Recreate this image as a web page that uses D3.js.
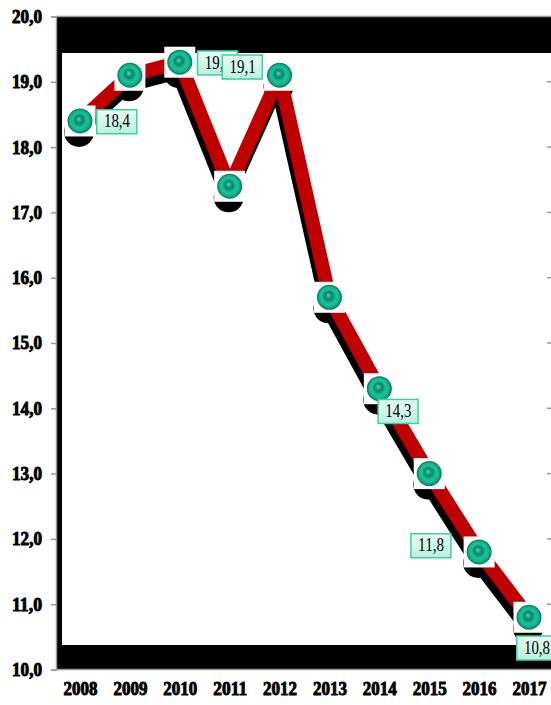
<!DOCTYPE html>
<html>
<head>
<meta charset="utf-8">
<script src="https://cdn.jsdelivr.net/npm/d3@7"></script>
<style>
html,body{margin:0;padding:0;background:#fff;}
svg{display:block;}
</style>
</head>
<body>
<svg id="chart" width="551" height="705"></svg>
<script>
// ---- data ----
const years = ["2008","2009","2010","2011","2012","2013","2014","2015","2016","2017"];
const values = [18.4, 19.1, 19.3, 17.4, 19.1, 15.7, 14.3, 13.0, 11.8, 10.8];
const yTicks = [10,11,12,13,14,15,16,17,18,19,20];
const labeledYears = ["2008","2010","2012","2014","2016","2017"];

// ---- label placement (layout only) ----
const labelPlace = {
  "2008": {dx: 16, dy: -12},
  "2010": {dx: 17, dy: -12},
  "2012": {dx: -58, dy: -21},
  "2014": {dx: -2, dy: 10},
  "2016": {dx: -69, dy: -19},
  "2017": {dx: -13, dy: 18}
};

const fmt = v => d3.format(".1f")(v).replace(".", ",");

const svg = d3.select("#chart");
const defs = svg.append("defs");

const x = d3.scalePoint().domain(years).range([80, 529]);
const y = d3.scaleLinear().domain([10, 20]).range([669.5, 16.5]);

// gradients
const sg = defs.append("radialGradient").attr("id","sphere")
  .attr("cx","50%").attr("cy","50%").attr("r","50%").attr("fx","45%").attr("fy","42%");
[[0,"#4fdcb9"],[0.15,"#1fb08c"],[0.3,"#0a8469"],[0.42,"#10a07e"],[0.6,"#1cc499"],[0.82,"#12ad87"],[1,"#06735a"]]
  .forEach(s => sg.append("stop").attr("offset", s[0]).attr("stop-color", s[1]));
const lg = defs.append("linearGradient").attr("id","lbl").attr("x1","0").attr("y1","0").attr("x2","0").attr("y2","1");
lg.append("stop").attr("offset",0).attr("stop-color","#e9fcf5");
lg.append("stop").attr("offset",1).attr("stop-color","#b9f1dd");

// back wall / plot area
const pLeft = 56, pRight = 551, pTop = y(20), pBottom = y(10);
svg.append("rect").attr("x", pLeft).attr("y", pTop).attr("width", pRight-pLeft).attr("height", pBottom-pTop).attr("fill","#000");
svg.append("rect").attr("x", 62).attr("y", 53).attr("width", 485).attr("height", 592).attr("fill","#fff");
svg.append("rect").attr("x", 547).attr("y", 53).attr("width", 4).attr("height", 592).attr("fill","#fff");
// right stubs of gridlines
svg.append("g").selectAll("line").data(yTicks.filter(t => y(t) > 53 && y(t) < 645)).join("line")
  .attr("x1", 547).attr("x2", 551).attr("y1", d => y(d)).attr("y2", d => y(d))
  .attr("stroke","#999").attr("stroke-width",1.5);
// top and bottom frame lines
svg.append("line").attr("x1", pLeft).attr("x2", pRight).attr("y1", pTop).attr("y2", pTop).attr("stroke","#999").attr("stroke-width",1.5);
svg.append("line").attr("x1", pLeft).attr("x2", pRight).attr("y1", pBottom).attr("y2", pBottom).attr("stroke","#999").attr("stroke-width",1.5);

// y axis
const yAxis = d3.axisLeft(y).tickValues(yTicks).tickFormat(fmt).tickSize(5).tickPadding(9);
const gy = svg.append("g").attr("transform", `translate(${pLeft},0)`).call(yAxis);
gy.select(".domain").attr("stroke","#999").attr("stroke-width",1.5);
gy.selectAll(".tick line").attr("stroke","#999").attr("stroke-width",1.5).attr("x2",-5).attr("x1",1);
gy.selectAll(".tick text")
  .attr("font-family","'Liberation Serif', 'Times New Roman', serif")
  .attr("font-size", 18).attr("font-weight","bold").attr("fill","#000")
  .attr("stroke","#000").attr("stroke-width",0.9)
  .attr("textLength", 30).attr("lengthAdjust","spacingAndGlyphs")
  .attr("dy","0.33em");

// x axis labels
const xAxis = d3.axisBottom(x).tickSize(0).tickPadding(0);
const gx = svg.append("g").attr("transform", `translate(0,${pBottom})`).call(xAxis);
gx.select(".domain").remove();
gx.selectAll(".tick text")
  .attr("font-family","'Liberation Serif', 'Times New Roman', serif")
  .attr("font-size", 18).attr("font-weight","bold").attr("fill","#000")
  .attr("stroke","#000").attr("stroke-width",0.9)
  .attr("textLength", 34).attr("lengthAdjust","spacingAndGlyphs")
  .attr("y", 25).attr("dy", 0);

const pts = years.map((yr, i) => ({year: yr, value: values[i]}));
const line = d3.line().x(d => x(d.year)).y(d => y(d.value));

// shadow layer
const sh = svg.append("g").attr("transform","translate(-2,10)");
sh.append("path").datum(pts).attr("d", line).attr("fill","none").attr("stroke","#000")
  .attr("stroke-width", 14).attr("stroke-linejoin","round");
svg.append("g").selectAll("circle").data(pts).join("circle")
  .attr("cx", d => x(d.year) - 1).attr("cy", d => y(d.value) + 11).attr("r", 15).attr("fill","#000");

// red line
svg.append("path").datum(pts).attr("d", line).attr("fill","none").attr("stroke","#c00000")
  .attr("stroke-width", 14).attr("stroke-linejoin","round");

// markers
const mk = svg.append("g").selectAll("g").data(pts).join("g")
  .attr("transform", d => `translate(${x(d.year)},${y(d.value)})`);
mk.append("rect").attr("x", -15.5).attr("y", -15.5).attr("width", 31).attr("height", 31).attr("fill","#fff");
mk.append("circle").attr("r", 12.5).attr("fill","url(#sphere)");

// data labels
const lab = svg.append("g").selectAll("g").data(pts.filter(d => labeledYears.includes(d.year))).join("g")
  .attr("transform", d => `translate(${x(d.year) + labelPlace[d.year].dx},${y(d.value) + labelPlace[d.year].dy})`);
lab.append("rect").attr("x", 0.75).attr("y", 0.75).attr("width", 40).attr("height", 24)
  .attr("fill","url(#lbl)").attr("stroke","#3ccfa5").attr("stroke-width",1.5);
lab.append("text").attr("x", 21).attr("y", 18.5).attr("text-anchor","middle")
  .attr("font-family","'Liberation Serif', 'Times New Roman', serif").attr("font-size", 18)
  .attr("textLength", 26).attr("lengthAdjust","spacingAndGlyphs")
  .attr("fill","#000").text(d => fmt(d.value));
</script>
</body>
</html>
